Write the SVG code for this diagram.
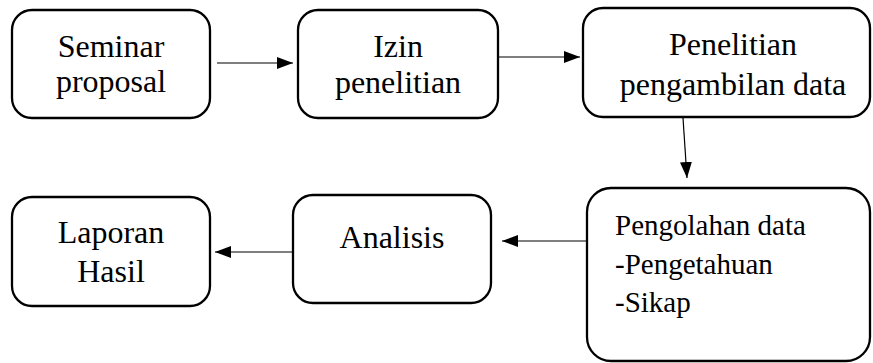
<svg xmlns="http://www.w3.org/2000/svg" width="873" height="363" viewBox="0 0 873 363" font-family="Liberation Serif, DejaVu Serif, serif">
<style>
.box{fill:#fff;stroke:#000;stroke-width:2.3}
.t{font-size:32px;fill:#000;text-anchor:middle}
.s{font-size:29px;fill:#000}
.c{stroke:#000;stroke-width:1.2;fill:none}
</style>
<defs>
<marker id="ah" viewBox="0 0 16 12" refX="16" refY="6" markerWidth="16" markerHeight="12" markerUnits="userSpaceOnUse" orient="auto">
<path d="M0,0 L16,6 L0,12 Z" fill="#000"/>
</marker>
</defs>
<rect width="873" height="363" fill="#fff"/>
<g id="connectors">
<line class="c" x1="217" y1="63" x2="293" y2="63" marker-end="url(#ah)"/>
<line class="c" x1="498" y1="57" x2="580" y2="57" marker-end="url(#ah)"/>
<line class="c" x1="683" y1="118" x2="687" y2="178" marker-end="url(#ah)"/>
<line class="c" x1="587" y1="241" x2="502" y2="241" marker-end="url(#ah)"/>
<line class="c" x1="292" y1="252" x2="215" y2="252" marker-end="url(#ah)"/>
</g>
<g id="seminar">
<rect class="box" x="12" y="10" width="198" height="108" rx="20"/>
<text class="t" x="111" y="57" font-family="Liberation Serif">Seminar</text>
<text class="t" x="111" y="92" font-family="Liberation Serif">proposal</text>
</g>
<g id="izin">
<rect class="box" x="298" y="10" width="200" height="108" rx="20"/>
<text class="t" x="398" y="57" font-family="Liberation Serif">Izin</text>
<text class="t" x="398" y="93" font-family="Liberation Serif">penelitian</text>
</g>
<g id="penelitian">
<rect class="box" x="583" y="8" width="287" height="109" rx="20"/>
<text class="t" x="733" y="55" font-family="Liberation Serif">Penelitian</text>
<text class="t" x="733" y="95" font-family="Liberation Serif">pengambilan data</text>
</g>
<g id="pengolahan">
<rect class="box" x="587" y="188" width="283" height="173" rx="24"/>
<text class="s" x="615" y="235" font-family="Liberation Serif">Pengolahan data</text>
<text class="s" x="615" y="274" font-family="Liberation Serif">-Pengetahuan</text>
<text class="s" x="615" y="312" font-family="Liberation Serif">-Sikap</text>
</g>
<g id="analisis">
<rect class="box" x="293" y="195" width="198" height="108" rx="20"/>
<text class="t" x="392" y="248" font-family="Liberation Serif">Analisis</text>
</g>
<g id="laporan">
<rect class="box" x="12" y="197" width="198" height="109" rx="20"/>
<text class="t" x="111" y="243" font-family="Liberation Serif">Laporan</text>
<text class="t" x="111" y="282" font-family="Liberation Serif">Hasil</text>
</g>
</svg>
